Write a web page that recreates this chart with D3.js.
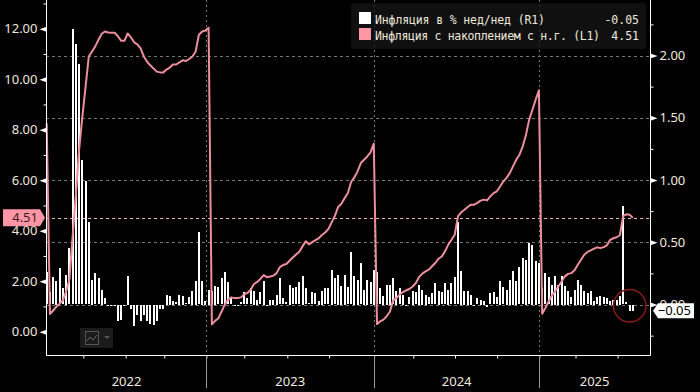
<!DOCTYPE html>
<html>
<head>
<meta charset="utf-8">
<script src="https://cdn.jsdelivr.net/npm/d3@7"></script>
<style>
  html, body { margin: 0; padding: 0; background: #000; }
  svg { display: block; }
  text { font-family: "Noto Sans", sans-serif; }
</style>
</head>
<body>
<svg width="700" height="392"></svg>
<script>
// weekly inflation, % w/w (right axis)
var weeklyInflation = [
  0.26,0.10,0.22,0.19,0.29,0.13,0.24,0.45,2.21,2.09,1.93,1.16,0.99,0.66,0.20,0.25,0.21,0.12,0.05,-0.01,
  -0.01,-0.01,-0.13,-0.12,-0.01,0.23,-0.03,-0.17,-0.08,-0.13,-0.08,-0.13,-0.15,-0.16,-0.13,-0.03,-0.03,0.08,0.07,0.03,
  0.02,0.08,0.07,0.01,0.06,0.11,0.19,0.58,0.19,0.03,0.12,0.11,0.15,0.14,0.21,0.26,0.18,0.06,-0.01,-0.01,
  0.02,0.10,0.05,0.13,0.11,0.04,0.10,0.19,-0.01,0.04,0.04,0.08,0.21,0.05,0.02,0.16,0.13,0.14,0.18,0.23,
  0.13,0.01,0.10,0.09,0.03,0.11,0.13,0.13,0.28,0.21,0.24,0.15,0.24,0.14,0.42,0.23,0.20,0.33,0.12,0.20,
  0.18,0.28,0.26,0.13,0.07,0.16,0.16,0.21,0.11,0.13,0.08,-0.01,0.06,0.11,0.10,0.16,0.12,0.08,0.06,0.09,
  0.17,0.11,0.10,0.17,0.12,0.17,0.22,0.66,0.27,0.11,0.11,0.08,0.00,0.05,0.04,0.03,-0.02,0.09,0.10,0.06,
  0.19,0.14,0.12,0.20,0.27,0.19,0.30,0.37,0.36,0.49,0.48,0.35,0.33,0.13,0.25,0.22,0.16,0.23,0.16,0.23,
  0.15,0.11,0.06,0.12,0.20,0.16,0.11,0.09,0.11,0.03,0.06,0.07,0.06,0.05,0.03,0.04,0.04,0.07,0.79,0.02,
  -0.05,-0.05
];

// inflation accumulated since start of year, % (left axis)
var ytdInflation = [
  8.25,0.70,0.84,0.99,1.11,1.24,1.60,2.06,3.76,5.40,7.20,8.50,9.70,10.90,11.10,11.30,11.56,11.80,11.89,11.85,
  11.84,11.84,11.70,11.52,11.52,11.81,11.66,11.46,11.38,11.22,10.90,10.69,10.55,10.42,10.30,10.27,10.27,10.38,10.46,10.58,
  10.58,10.67,10.75,10.72,10.80,10.90,11.10,11.76,11.89,11.93,12.04,0.29,0.43,0.53,0.80,1.07,1.27,1.36,1.33,1.33,
  1.36,1.49,1.53,1.66,1.89,1.97,2.09,2.24,2.16,2.19,2.22,2.32,2.56,2.64,2.68,2.81,2.94,3.06,3.17,3.38,
  3.58,3.46,3.55,3.63,3.70,3.83,3.93,4.07,4.33,4.59,4.94,5.07,5.29,5.49,5.93,6.11,6.35,6.68,6.81,6.94,
  7.10,7.45,0.30,0.41,0.48,0.61,0.80,1.24,1.33,1.47,1.57,1.64,1.69,1.79,1.93,2.17,2.30,2.39,2.46,2.59,
  2.72,2.89,2.98,3.18,3.45,3.64,3.84,4.57,4.73,4.83,4.94,5.03,5.03,5.10,5.19,5.23,5.20,5.36,5.49,5.56,
  5.75,5.95,6.09,6.28,6.55,6.81,7.01,7.34,7.80,8.40,8.79,9.19,9.56,0.71,0.94,1.20,1.43,1.60,1.79,1.99,
  2.19,2.29,2.32,2.43,2.65,2.85,3.05,3.16,3.22,3.29,3.34,3.31,3.35,3.42,3.64,3.70,3.74,3.82,4.59,4.65,
  4.63,4.51
];

var yearLabels = ["2022", "2023", "2024", "2025"];
// positions given in weeks since the first point, axis is by data point not by date
var yearBreaks = [49.3, 101.1, 152.1];
var quarterTicks = [11.3, 24.4, 36.3, 49.3, 61, 74.3, 87.2, 101.1, 113.2, 126.1, 139.1, 152.1, 163.3, 176.3];

var leftMajor = [0, 2, 4, 6, 8, 10, 12];
var leftMinor = [1, 3, 5, 7, 9, 11, 13];
var rightMajor = [0, 0.5, 1, 1.5, 2];
var rightMinor = [-0.25, 0.25, 0.75, 1.25, 1.75, 2.25];

var lastWeekly = -0.05, lastYtd = 4.51;
var legendNames = ["Инфляция в % нед/нед (R1)", "Инфляция с накоплением с н.г. (L1)"];
var legendValues = ["-0.05", "4.51"];

var textColor = "#efe9dc", pink = "#ec8f9c", swatchPink = "#ff96a6", gridColor = "#777";

var svg = d3.select("svg"),
    left = 46, right = 650, bottom = 355, top = 0;

var x = d3.scaleLinear().domain([0, 186.3]).range([46.7, 650]);
var yL = d3.scaleLinear().domain([0, 12]).range([331.7, 28.7]);
var yR = d3.scaleLinear().domain([0, 2]).range([304.5, 55.5]);

function crisp(v) { return Math.round(v) + 0.5; }

// grid
var grid = svg.append("g");
grid.selectAll("line.h").data(rightMajor).enter().append("line")
    .attr("class", "h")
    .attr("x1", left).attr("x2", right)
    .attr("y1", function(d) { return crisp(yR(d)); })
    .attr("y2", function(d) { return crisp(yR(d)); })
    .attr("stroke", gridColor).attr("stroke-dasharray", "3,3");
grid.selectAll("line.v").data(yearBreaks).enter().append("line")
    .attr("class", "v")
    .attr("x1", function(d) { return crisp(x(d)); })
    .attr("x2", function(d) { return crisp(x(d)); })
    .attr("y1", top).attr("y2", bottom)
    .attr("stroke", gridColor).attr("stroke-dasharray", "2,3");
grid.append("line")
    .attr("x1", left).attr("x2", right)
    .attr("y1", crisp(yL(lastYtd))).attr("y2", crisp(yL(lastYtd)))
    .attr("stroke", "#f3b3bb").attr("stroke-dasharray", "3,3");

// legend panel, sits over the grid
svg.append("rect")
    .attr("x", 351).attr("y", 3).attr("width", 295).attr("height", 46).attr("rx", 3)
    .attr("fill", "#161616").attr("fill-opacity", 0.75);

// bars
svg.append("g").selectAll("rect").data(weeklyInflation).enter().append("rect")
    .attr("x", function(d, i) { return Math.round(x(i) - 1); })
    .attr("width", 2)
    .attr("y", function(d) { return Math.round(yR(Math.max(d, 0))); })
    .attr("height", function(d) { return Math.max(1, Math.round(Math.abs(yR(d) - yR(0)))); })
    .attr("fill", "#fff");

// line
var line = d3.line()
    .x(function(d, i) { return x(i); })
    .y(function(d) { return yL(d); });

svg.append("path")
    .datum(ytdInflation)
    .attr("fill", "none")
    .attr("stroke", pink)
    .attr("stroke-width", 2)
    .attr("stroke-linejoin", "round")
    .attr("d", line);

// axes
var leftAxis = svg.append("g").attr("transform", "translate(" + (left + 0.5) + ",0)")
    .call(d3.axisLeft(yL).tickValues(leftMajor).tickSize(0).tickPadding(9).tickFormat(d3.format(".2f")));
svg.append("g").attr("transform", "translate(" + (left + 0.5) + ",0)")
    .call(d3.axisLeft(yL).tickValues(leftMinor).tickSize(3).tickFormat(""));
var rightAxis = svg.append("g").attr("transform", "translate(" + (right + 0.5) + ",0)")
    .call(d3.axisRight(yR).tickValues(rightMajor).tickSize(0).tickPadding(9).tickFormat(d3.format(".2f")));
svg.append("g").attr("transform", "translate(" + (right + 0.5) + ",0)")
    .call(d3.axisRight(yR).tickValues(rightMinor).tickSize(3).tickFormat(""));
svg.append("g").attr("transform", "translate(0," + (bottom + 0.5) + ")")
    .call(d3.axisBottom(x).tickValues(quarterTicks).tickSize(3).tickFormat(""));

svg.selectAll(".domain").remove();
svg.selectAll(".tick line").attr("stroke", "#fff");
leftAxis.selectAll(".tick").append("path").attr("d", "M0,-2.5L-7,0L0,2.5Z").attr("fill", "#fff");
rightAxis.selectAll(".tick").append("path").attr("d", "M0,-2.5L7,0L0,2.5Z").attr("fill", "#fff");
svg.selectAll(".tick text").attr("fill", textColor).style("font-size", "13px").style("font-family", '"Noto Sans", sans-serif');

svg.append("path")
    .attr("d", "M" + (left + 0.5) + ",0V" + (bottom + 0.5) + "H" + (right + 0.5) + "V0")
    .attr("fill", "none").attr("stroke", "#fff");

// year separators + labels
svg.append("g").selectAll("line").data(yearBreaks).enter().append("line")
    .attr("x1", function(d) { return crisp(x(d)); })
    .attr("x2", function(d) { return crisp(x(d)); })
    .attr("y1", bottom + 1).attr("y2", 388)
    .attr("stroke", "#999");

var yearEdges = [0].concat(yearBreaks, [186.3]);
svg.append("g").selectAll("text").data(yearLabels).enter().append("text")
    .attr("x", function(d, i) { return (x(yearEdges[i]) + x(yearEdges[i + 1])) / 2; })
    .attr("y", 386)
    .attr("text-anchor", "middle")
    .attr("fill", textColor)
    .style("font-size", "13px")
    .text(function(d) { return d; });

// legend
var legend = svg.append("g");
legend.selectAll("rect").data([ "#fff", swatchPink ]).enter().append("rect")
    .attr("x", 359).attr("width", 12).attr("height", 12)
    .attr("y", function(d, i) { return 12 + i * 16; })
    .attr("fill", function(d) { return d; });
legend.selectAll("text.name").data(legendNames).enter().append("text")
    .attr("class", "name")
    .attr("x", 375)
    .attr("y", function(d, i) { return 24 + i * 16; })
    .attr("textLength", function(d, i) { return i ? 225 : 170; })
    .attr("lengthAdjust", "spacing")
    .attr("fill", textColor)
    .style("font-family", '"DejaVu Sans Mono", monospace')
    .style("font-size", "11.5px")
    .text(function(d) { return d; });
legend.selectAll("text.val").data(legendValues).enter().append("text")
    .attr("class", "val")
    .attr("x", 639)
    .attr("y", function(d, i) { return 24 + i * 16; })
    .attr("text-anchor", "end")
    .attr("fill", textColor)
    .style("font-family", '"DejaVu Sans Mono", monospace')
    .style("font-size", "11.5px")
    .text(function(d) { return d; });

// last value flags
var yFlagL = yL(lastYtd), yFlagR = yR(lastWeekly);
svg.append("path")
    .attr("d", "M3," + (yFlagL - 8.5) + "H40L45," + yFlagL + "L40," + (yFlagL + 8.5) + "H3Z")
    .attr("fill", swatchPink);
svg.append("text")
    .attr("x", 38).attr("y", yFlagL + 4.5)
    .attr("text-anchor", "end").attr("fill", "#3a1a20")
    .style("font-size", "13px")
    .text(d3.format(".2f")(lastYtd));

svg.append("path")
    .attr("d", "M658," + (yFlagR - 7.5) + "H694V" + (yFlagR + 7.5) + "H658L653," + yFlagR + "Z")
    .attr("fill", "#fff");
svg.append("text")
    .attr("x", 691).attr("y", yFlagR + 4.5)
    .attr("text-anchor", "end").attr("fill", "#000")
    .style("font-size", "13px")
    .text(d3.format(".2f")(lastWeekly));

// red circle
svg.append("circle")
    .attr("cx", 629.7).attr("cy", 305.7).attr("r", 16.3)
    .attr("fill", "none").attr("stroke", "#8e1a1a").attr("stroke-width", 1.5);

// chart type button
var btn = svg.append("g");
btn.append("rect").attr("x", 80).attr("y", 328).attr("width", 33).attr("height", 20).attr("fill", "#1b1b1b");
btn.append("rect").attr("x", 85.5).attr("y", 331.5).attr("width", 13).attr("height", 13)
    .attr("fill", "none").attr("stroke", "#555");
btn.append("path").attr("d", "M87,341L90,337L93,340L97,335").attr("fill", "none").attr("stroke", "#666");
btn.append("path").attr("d", "M104,336H110L107,339Z").attr("fill", "#555");
</script>
</body>
</html>
